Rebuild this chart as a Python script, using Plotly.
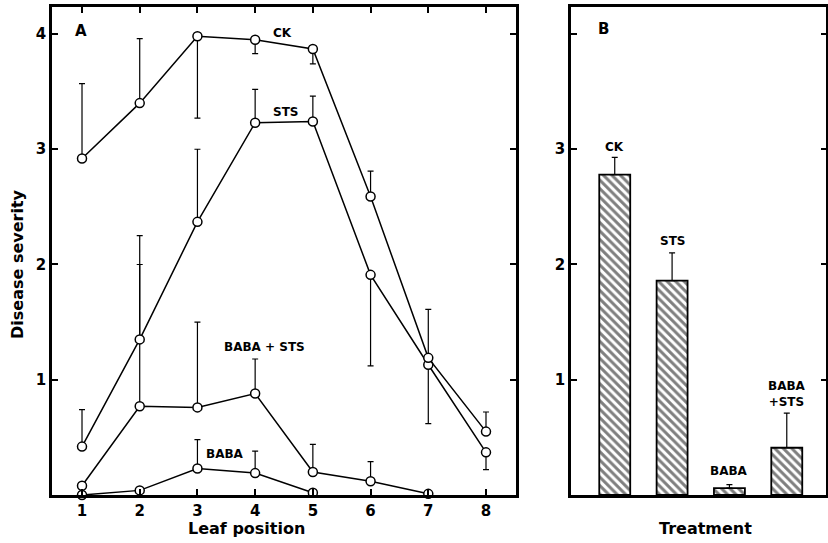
import plotly.graph_objects as go

# ---------------- Data (panel A) ----------------
leaf = [1, 2, 3, 4, 5, 6, 7, 8]
ck = [2.92, 3.40, 3.98, 3.95, 3.87, 2.59, 1.19, 0.55]
ck_up = [0.65, 0.56, 0, 0, 0, 0.22, 0.42, 0.17]
ck_dn = [0, 0, 0.71, 0.12, 0.13, 0, 0, 0]

sts = [0.42, 1.35, 2.37, 3.23, 3.24, 1.91, 1.13, 0.37]
sts_up = [0.32, 0.90, 0.63, 0.29, 0.22, 0, 0, 0]
sts_dn = [0, 0, 0, 0, 0, 0.79, 0.51, 0.15]

leaf_bs = [1, 2, 3, 4, 5, 6, 7]
baba_sts = [0.08, 0.77, 0.76, 0.88, 0.20, 0.12, 0.01]
baba_sts_up = [0, 1.23, 0.74, 0.30, 0.24, 0.17, 0]

leaf_b = [1, 2, 3, 4, 5]
baba = [0.0, 0.04, 0.23, 0.19, 0.02]
baba_up = [0, 0, 0.25, 0.19, 0]

# ---------------- Data (panel B) ----------------
treatments = ["CK", "STS", "BABA", "BABA<br>+STS"]
treat_pos = [0, 1, 2, 3]
means = [2.78, 1.86, 0.06, 0.41]
means_err = [0.15, 0.24, 0.03, 0.30]

y_ticks = [1, 2, 3, 4]
x_ticks = [1, 2, 3, 4, 5, 6, 7, 8]

FONT = "DejaVu Sans"

fig = go.Figure()


def line_trace(x, y, up, dn):
    return go.Scatter(
        x=x, y=y, mode="lines+markers",
        line=dict(color="black", width=1.5),
        marker=dict(symbol="circle", size=9, color="white",
                    line=dict(color="black", width=1.5)),
        error_y=dict(type="data", symmetric=False, array=up, arrayminus=dn,
                     color="black", thickness=1.2, width=3),
        cliponaxis=False, showlegend=False,
        xaxis="x", yaxis="y",
    )


fig.add_trace(line_trace(leaf_b, baba, baba_up, [0] * len(baba)))
fig.add_trace(line_trace(leaf_bs, baba_sts, baba_sts_up, [0] * len(baba_sts)))
fig.add_trace(line_trace(leaf, sts, sts_up, sts_dn))
fig.add_trace(line_trace(leaf, ck, ck_up, ck_dn))

fig.add_trace(go.Bar(
    x=treat_pos, y=means, width=0.54,
    marker=dict(color="white", line=dict(color="black", width=1.8),
                pattern=dict(shape="\\", fgcolor="black", bgcolor="white",
                             size=6, solidity=0.5)),
    error_y=dict(type="data", symmetric=False, array=means_err,
                 arrayminus=[0] * len(means), color="black", thickness=1.2, width=3),
    showlegend=False, xaxis="x2", yaxis="y2",
))

axis_common = dict(showgrid=False, zeroline=False, showline=True,
                   linecolor="black", linewidth=2.5,
                   tickfont=dict(family=FONT, size=15, color="black"))

fig.update_layout(
    width=828, height=543,
    margin=dict(l=0, r=0, t=0, b=0),
    paper_bgcolor="white", plot_bgcolor="white",
    xaxis=dict(domain=[0.0628, 0.6232], range=[0.48, 8.52],
               tickvals=x_ticks, ticktext=[f"<b>{v}</b>" for v in x_ticks],
               ticks="inside", ticklen=6, tickwidth=1.5,
               tickcolor="black", mirror="allticks", anchor="y", **axis_common),
    yaxis=dict(domain=[0.0884, 0.9871], range=[0, 4.234],
               tickvals=y_ticks, ticktext=[f"<b>{v}</b>" for v in y_ticks],
               ticks="inside", ticklen=6, tickwidth=1.5,
               tickcolor="black", mirror="allticks", anchor="x", **axis_common),
    xaxis2=dict(domain=[0.6896, 0.998], range=[-0.763, 3.69],
                showticklabels=False, ticks="", mirror=True, anchor="y2",
                **axis_common),
    yaxis2=dict(domain=[0.0884, 0.9871], range=[0, 4.234],
                tickvals=y_ticks, ticktext=["<b>1</b>", "<b>2</b>", "<b>3</b>", ""],
                ticks="inside", ticklen=6, tickwidth=1.5, tickcolor="black",
                mirror="allticks", anchor="x2", **axis_common),
)

ann_font = dict(family=FONT, size=12, color="black")
bold = lambda s: "<b>" + s + "</b>"

# panel A series labels
for txt, x, y in [("CK", 4.47, 4.01), ("STS", 4.52, 3.32),
                  ("BABA + STS", 4.17, 1.28), ("BABA", 3.47, 0.36)]:
    fig.add_annotation(x=x, y=y, xref="x", yref="y", text=bold(txt),
                       showarrow=False, font=ann_font)

# panel B bar labels
for txt, x, y in zip(treatments, treat_pos, [3.02, 2.20, 0.21, 0.88]):
    fig.add_annotation(x=x, y=y, xref="x2", yref="y2", text=bold(txt),
                       showarrow=False, font=ann_font)

# panel letters
fig.add_annotation(x=0.98, y=4.03, xref="x", yref="y", text=bold("A"),
                   showarrow=False, font=dict(family=FONT, size=15, color="black"))
fig.add_annotation(x=-0.19, y=4.04, xref="x2", yref="y2", text=bold("B"),
                   showarrow=False, font=dict(family=FONT, size=15, color="black"))

# axis titles
title_font = dict(family=FONT, size=16, color="black")
fig.add_annotation(x=17 / 828, y=1 - 264 / 543, xref="paper", yref="paper",
                   xanchor="center", yanchor="middle",
                   text=bold("Disease severity"), textangle=-90, showarrow=False,
                   font=title_font)
fig.add_annotation(x=246 / 828, y=1 - 528 / 543, xref="paper", yref="paper",
                   xanchor="center", yanchor="middle",
                   text=bold("Leaf position"), showarrow=False, font=title_font)
fig.add_annotation(x=705 / 828, y=1 - 528 / 543, xref="paper", yref="paper",
                   xanchor="center", yanchor="middle",
                   text=bold("Treatment"), showarrow=False, font=title_font)

fig.write_html("out.html", config={"displayModeBar": False},
               post_script="document.body.style.margin='0';")
